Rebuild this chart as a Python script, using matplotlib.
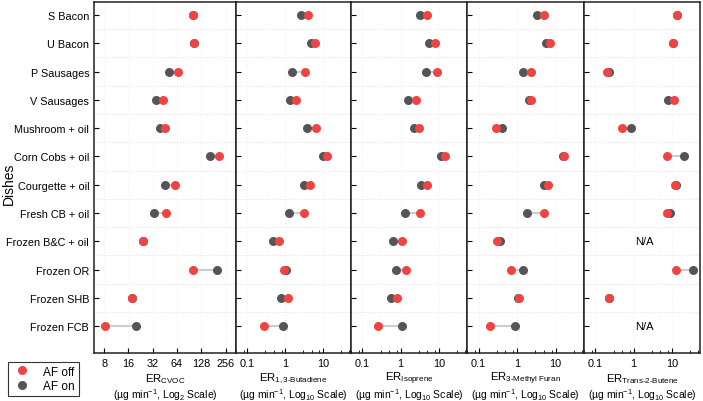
import matplotlib
matplotlib.use('Agg')
import matplotlib.pyplot as plt
import matplotlib.ticker as mticker
from matplotlib.lines import Line2D
import numpy as np

plt.rcParams['font.family'] = ['Liberation Sans', 'DejaVu Sans']
plt.rcParams['mathtext.fontset'] = 'custom'
plt.rcParams['mathtext.rm'] = 'Liberation Sans'
plt.rcParams['mathtext.it'] = 'Liberation Sans:italic'

dishes = ['S Bacon', 'U Bacon', 'P Sausages', 'V Sausages', 'Mushroom + oil',
          'Corn Cobs + oil', 'Courgette + oil', 'Fresh CB + oil',
          'Frozen B&C + oil', 'Frozen OR', 'Frozen SHB', 'Frozen FCB']
nan = np.nan

# AF off / AF on emission rates
cvoc_off = [101, 105, 65, 43.5, 46, 212, 60, 46.5, 24, 100, 17.6, 8.3]
cvoc_on = [101, 105, 51.6, 35.5, 39.7, 163, 45, 33.6, 24, 201, 17.6, 19.7]
but_off = [4.0, 6.3, 3.4, 1.96, 6.4, 12.5, 4.4, 3.2, 0.68, 0.94, 1.18, 0.27]
but_on = [2.6, 4.7, 1.53, 1.38, 3.76, 10, 3.1, 1.25, 0.49, 1.04, 0.78, 0.88]
iso_off = [4.9, 7.9, 8.9, 2.5, 3.0, 14.7, 4.8, 3.2, 1.08, 1.38, 0.79, 0.26]
iso_on = [3.3, 5.6, 4.7, 1.56, 2.24, 11.3, 3.5, 1.3, 0.64, 0.74, 0.57, 1.06]
mf_off = [5.0, 7.4, 2.3, 2.25, 0.29, 16.4, 6.3, 4.9, 0.30, 0.68, 1.15, 0.20]
mf_on = [3.3, 5.7, 1.4, 2.08, 0.40, 15.5, 4.9, 1.77, 0.36, 1.4, 1.06, 0.89]
tb_off = [13.8, 11, 0.195, 11.7, 0.51, 7.7, 12.4, 7.7, nan, 13, 0.23, nan]
tb_on = [13.8, 11, 0.22, 8.0, 0.85, 20.8, 13.2, 9.0, nan, 37, 0.23, nan]

panels = [
    (cvoc_off, cvoc_on, 'CVOC', '2'),
    (but_off, but_on, r'1,3\text{-}Butadiene', '10'),
    (iso_off, iso_on, 'Isoprene', '10'),
    (mf_off, mf_on, r'3\text{-}Methyl\ Furan', '10'),
    (tb_off, tb_on, r'Trans\text{-}2\text{-}Butene', '10'),
]

red = '#EF4444'
grey = '#555555'

W, H = 703, 402
edges = [94, 236, 351, 467, 584, 700]
top, bot = 3, 354

fig = plt.figure(figsize=(7.03, 4.02), dpi=100)
y = np.arange(len(dishes))

for i, (off, on, sub, base) in enumerate(panels):
    x0, x1 = edges[i], edges[i + 1]
    ax = fig.add_axes([x0 / W, 1 - bot / H, (x1 - x0) / W, (bot - top) / H])
    for k in range(len(dishes)):
        ax.plot([off[k], on[k]], [y[k], y[k]], color='#cccccc', lw=1.5, zorder=2)
    ax.plot(on, y, 'o', color=grey, ms=6.5, mec='none', zorder=3)
    ax.plot(off, y, 'o', color=red, ms=6.5, mec='none', zorder=4)

    if base == '2':
        ax.set_xscale('log', base=2)
        ax.set_xlim(6.0, 345)
        ax.set_xticks([8, 16, 32, 64, 128, 256])
        ax.xaxis.set_major_formatter(mticker.FuncFormatter(lambda v, p: '%d' % v))
        ax.xaxis.set_minor_locator(mticker.LogLocator(base=2, subs=(2 ** 0.25, 2 ** 0.5, 2 ** 0.75)))
        ax.xaxis.set_minor_formatter(mticker.NullFormatter())
    else:
        ax.set_xscale('log')
        ax.set_xlim(0.05, 55)
        ax.set_xticks([0.1, 1, 10])
        ax.set_xticklabels(['0.1', '1', '10'])
        ax.xaxis.set_minor_locator(mticker.LogLocator(base=10, subs=(3, 5, 8)))
        ax.xaxis.set_minor_formatter(mticker.NullFormatter())

    ax.set_ylim(11.95, -0.46)
    ax.set_yticks(y)
    if i == 0:
        ax.set_yticklabels(dishes, fontsize=7.8)
    else:
        ax.set_yticklabels([])
    ax.set_yticks(y[:-1] + 0.5, minor=True)
    ax.grid(which='minor', axis='y', ls=':', color='#e2e2e2', lw=0.8)
    ax.grid(which='major', axis='x', ls=':', color='#f0f0f0', lw=0.8)
    ax.set_axisbelow(True)
    ax.tick_params(axis='both', which='major', direction='in', length=3.5, width=0.8, labelsize=7.8)
    ax.tick_params(axis='x', which='minor', direction='in', length=2, width=0.6)
    ax.tick_params(axis='y', which='minor', length=0)
    for s in ax.spines.values():
        s.set_linewidth(1.1)
        s.set_color('#222222')

    xc = (x0 + x1) / 2 / W
    fig.text(xc, 1 - 379 / H, r'ER$_{\mathregular{%s}}$' % sub, ha='center', va='center', fontsize=8.2)
    fig.text(xc, 1 - 395 / H, r'(µg min$^{-1}$, Log$_{%s}$ Scale)' % base, ha='center', va='center', fontsize=7.5)

    if i == 4:
        for k in range(len(dishes)):
            if np.isnan(off[k]):
                ax.text(1.9, y[k], 'N/A', ha='center', va='center', fontsize=8)

fig.text(9 / W, 1 - 184 / H, 'Dishes', rotation=90, ha='center', va='center', fontsize=10)

handles = [Line2D([], [], ls='none', marker='o', color=red, ms=6.5, mec='none'),
           Line2D([], [], ls='none', marker='o', color=grey, ms=6.5, mec='none')]
leg = fig.legend(handles, ['AF off', 'AF on'], loc='lower left',
                 bbox_to_anchor=(8 / W, 1 - 397 / H), fontsize=8.5, frameon=True,
                 fancybox=False, edgecolor='black', borderpad=0.3, labelspacing=0.25,
                 handletextpad=0.9, handlelength=1.8, borderaxespad=0)
leg.get_frame().set_linewidth(0.8)

fig.savefig('out.png', dpi=100)
